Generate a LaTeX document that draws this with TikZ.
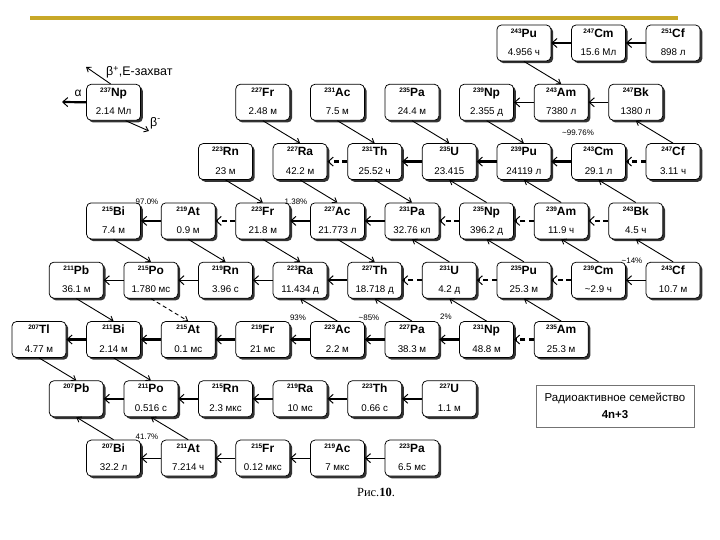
\documentclass[tikz,border=0pt]{standalone}
\usepackage{fontspec}
\setmainfont{Liberation Sans}
\newfontfamily\serifcap{Liberation Serif}
\usetikzlibrary{arrows.meta,shadows}
\definecolor{gold}{RGB}{200,168,40}
\newcommand\nucTxt[3]{\raisebox{4bp}{\fontsize{6.5}{7}\selectfont\bfseries #1}{\fontsize{12}{13}\selectfont\bfseries\vphantom{Tl}#2}\\{\fontsize{9.8}{11}\selectfont\vphantom{д0}#3}}
\newcommand\Nuc[6]{\node[nuc] (#1) at ({39+37.3*#2},{43+59.3*#3}) {\nucTxt{#4}{#5}{#6}};}
\tikzset{
  nuc/.style={draw, line width=0.75bp, rounded corners=4.5bp, fill=white,
    minimum width=54bp, minimum height=36bp, inner sep=0pt, align=center,
    font=\fontsize{9}{18.5}\selectfont,
    drop shadow={shadow xshift=2.2bp, shadow yshift=-2.2bp, fill=black!80, opacity=1}},
  athick/.style={line width=2.2bp, -{Straight Barb[length=5bp,width=9bp,line width=1bp]}},
  amed/.style={line width=1.5bp, -{Straight Barb[length=5bp,width=9bp,line width=1bp]}},
  athin/.style={line width=1.1bp, -{Straight Barb[length=5bp,width=9bp,line width=1bp]}},
  adash/.style={athick, dash pattern=on 5bp off 3.5bp},
  adiag/.style={line width=0.9bp, -{Straight Barb[length=4bp,width=6bp,line width=0.9bp]}},
  adiagdash/.style={adiag, dash pattern=on 4bp off 3bp},
  pct/.style={font=\fontsize{8}{9}\selectfont, inner sep=0pt},
}
\begin{document}
\begin{tikzpicture}[x=1bp,y=-1bp]
\fill[white] (0,0) rectangle (720,540);
\useasboundingbox (0,0) rectangle (720,540);
\draw[gold, line width=4bp] (30,18) -- (678,18);
% row 0
\Nuc{Pu243}{13}{0}{243}{Pu}{4.956 ч}
\Nuc{Cm247}{15}{0}{247}{Cm}{15.6 Мл}
\Nuc{Cf251}{17}{0}{251}{Cf}{898 л}
% row 1
\Nuc{Np237}{2}{1}{237}{Np}{2.14 Мл}
\Nuc{Fr227}{6}{1}{227}{Fr}{2.48 м}
\Nuc{Ac231}{8}{1}{231}{Ac}{7.5 м}
\Nuc{Pa235}{10}{1}{235}{Pa}{24.4 м}
\Nuc{Np239}{12}{1}{239}{Np}{2.355 д}
\Nuc{Am243}{14}{1}{243}{Am}{7380 л}
\Nuc{Bk247}{16}{1}{247}{Bk}{1380 л}
% row 2
\Nuc{Rn223}{5}{2}{223}{Rn}{23 м}
\Nuc{Ra227}{7}{2}{227}{Ra}{42.2 м}
\Nuc{Th231}{9}{2}{231}{Th}{25.52 ч}
\Nuc{U235}{11}{2}{235}{U}{23.415}
\Nuc{Pu239}{13}{2}{239}{Pu}{24119 л}
\Nuc{Cm243}{15}{2}{243}{Cm}{29.1 л}
\Nuc{Cf247}{17}{2}{247}{Cf}{3.11 ч}
% row 3
\Nuc{Bi215}{2}{3}{215}{Bi}{7.4 м}
\Nuc{At219}{4}{3}{219}{At}{0.9 м}
\Nuc{Fr223}{6}{3}{223}{Fr}{21.8 м}
\Nuc{Ac227}{8}{3}{227}{Ac}{21.773 л}
\Nuc{Pa231}{10}{3}{231}{Pa}{32.76 кл}
\Nuc{Np235}{12}{3}{235}{Np}{396.2 д}
\Nuc{Am239}{14}{3}{239}{Am}{11.9 ч}
\Nuc{Bk243}{16}{3}{243}{Bk}{4.5 ч}
% row 4
\Nuc{Pb211}{1}{4}{211}{Pb}{36.1 м}
\Nuc{Po215}{3}{4}{215}{Po}{1.780 мс}
\Nuc{Rn219}{5}{4}{219}{Rn}{3.96 с}
\Nuc{Ra223}{7}{4}{223}{Ra}{11.434 д}
\Nuc{Th227}{9}{4}{227}{Th}{18.718 д}
\Nuc{U231}{11}{4}{231}{U}{4.2 д}
\Nuc{Pu235}{13}{4}{235}{Pu}{25.3 м}
\Nuc{Cm239}{15}{4}{239}{Cm}{\textasciitilde 2.9 ч}
\Nuc{Cf243}{17}{4}{243}{Cf}{10.7 м}
% row 5
\Nuc{Tl207}{0}{5}{207}{Tl}{4.77 м}
\Nuc{Bi211}{2}{5}{211}{Bi}{2.14 м}
\Nuc{At215}{4}{5}{215}{At}{0.1 мс}
\Nuc{Fr219}{6}{5}{219}{Fr}{21 мс}
\Nuc{Ac223}{8}{5}{223}{Ac}{2.2 м}
\Nuc{Pa227}{10}{5}{227}{Pa}{38.3 м}
\Nuc{Np231}{12}{5}{231}{Np}{48.8 м}
\Nuc{Am235}{14}{5}{235}{Am}{25.3 м}
% row 6
\Nuc{Pb207}{1}{6}{207}{Pb}{}
\Nuc{Po211}{3}{6}{211}{Po}{0.516 с}
\Nuc{Rn215}{5}{6}{215}{Rn}{2.3 мкс}
\Nuc{Ra219}{7}{6}{219}{Ra}{10 мс}
\Nuc{Th223}{9}{6}{223}{Th}{0.66 с}
\Nuc{U227}{11}{6}{227}{U}{1.1 м}
% row 7
\Nuc{Bi207}{2}{7}{207}{Bi}{32.2 л}
\Nuc{At211}{4}{7}{211}{At}{7.214 ч}
\Nuc{Fr215}{6}{7}{215}{Fr}{0.12 мкс}
\Nuc{Ac219}{8}{7}{219}{Ac}{7 мкс}
\Nuc{Pa223}{10}{7}{223}{Pa}{6.5 мс}
% horizontal alpha arrows
\draw[athin] (Cf251.west) -- (Cm247.east);
\draw[athin] (Cm247.west) -- (Pu243.east);
\draw[amed] (Bk247.west) -- (Am243.east);
\draw[amed] (Am243.west) -- (Np239.east);
\draw[adash] (Th231.west) -- (Ra227.east);
\draw[athick] (U235.west) -- (Th231.east);
\draw[athick] (Pu239.west) -- (U235.east);
\draw[athick] (Cm243.west) -- (Pu239.east);
\draw[adash] (Cf247.west) -- (Cm243.east);
\draw[athick] (At219.west) -- (Bi215.east);
\draw[adash] (Fr223.west) -- (At219.east);
\draw[athick] (Ac227.west) -- (Fr223.east);
\draw[athick] (Pa231.west) -- (Ac227.east);
\draw[adash] (Np235.west) -- (Pa231.east);
\draw[adash] (Am239.west) -- (Np235.east);
\draw[adash] (Bk243.west) -- (Am239.east);
\draw[athin] (Po215.west) -- (Pb211.east);
\draw[athin] (Rn219.west) -- (Po215.east);
\draw[athin] (Ra223.west) -- (Rn219.east);
\draw[athick] (Th227.west) -- (Ra223.east);
\draw[adash] (U231.west) -- (Th227.east);
\draw[adash] (Pu235.west) -- (U231.east);
\draw[adash] (Cm239.west) -- (Pu235.east);
\draw[athin] (Cf243.west) -- (Cm239.east);
\draw[athick] (Bi211.west) -- (Tl207.east);
\draw[athick] (At215.west) -- (Bi211.east);
\draw[athick] (Fr219.west) -- (At215.east);
\draw[athick] (Ac223.west) -- (Fr219.east);
\draw[athick] (Pa227.west) -- (Ac223.east);
\draw[athick] (Np231.west) -- (Pa227.east);
\draw[adash] (Am235.west) -- (Np231.east);
\draw[athick] (Po211.west) -- (Pb207.east);
\draw[athick] (Rn215.west) -- (Po211.east);
\draw[athick] (Ra219.west) -- (Rn215.east);
\draw[athick] (Th223.west) -- (Ra219.east);
\draw[athick] (U227.west) -- (Th223.east);
\draw[athin] (At211.west) -- (Bi207.east);
\draw[athin] (Fr215.west) -- (At211.east);
\draw[athin] (Ac219.west) -- (Fr215.east);
\draw[athin] (Pa223.west) -- (Ac219.east);
% beta- arrows
\foreach \a/\b in {Pu243/Am243, Fr227/Ra227, Ac231/Th231, Pa235/U235, Np239/Pu239,
  Rn223/Fr223, Ra227/Ac227, Th231/Pa231, Bi215/Po215, At219/Rn219, Fr223/Ra223,
  Ac227/Th227, Pb211/Bi211, Tl207/Pb207, Bi211/Po211}
  \draw[adiag] (\a.south) -- (\b.north);
\draw[adiagdash] (Po215.south) -- (At215.north);
% beta+ / EC arrows
\foreach \a/\b in {Cf247/Bk247, Np235/U235, Am239/Pu239, Bk243/Cm243, U231/Pa231,
  Pu235/Np235, Cm239/Am239, Cf243/Bk243, Ac223/Ra223, Pa227/Th227, Np231/U231,
  Am235/Pu235, Bi207/Pb207, At211/Po211}
  \draw[adiag] (\a.north) -- (\b.south);
% legend arrows
\coordinate (la) at (62,102);
\coordinate (lbp) at (86,67);
\coordinate (lbm) at (149,131);
\draw[athick] (Np237.west) -- (la);
\draw[adiag] ([xshift=-3bp]Np237.north) -- (lbp);
\draw[adiag] ([xshift=12bp]Np237.south) -- (lbm);
\node[font=\fontsize{12}{14}\selectfont, inner sep=0pt] (lalpha) at (78,93) {α};
\node[font=\fontsize{12.5}{14}\selectfont, inner sep=0pt, anchor=west] (lbplus) at (106,72) {β\textsuperscript{+},E-захват};
\node[font=\fontsize{12.5}{14}\selectfont, inner sep=0pt, anchor=west] (lbminus) at (150,123) {β\textsuperscript{-}};
% percentages
\node[pct] (p1) at (147,202) {97.0\%};
\node[pct] (p2) at (296,202) {1.38\%};
\node[pct] (p3) at (578,133) {\textasciitilde 99.76\%};
\node[pct] (p4) at (632,261) {\textasciitilde 14\%};
\node[pct] (p5) at (298,318) {93\%};
\node[pct] (p6) at (369,318) {\textasciitilde 85\%};
\node[pct] (p7) at (446,317) {2\%};
\node[pct] (p8) at (147,437) {41.7\%};
% family box
\node[draw=black!55, line width=0.8bp, minimum width=158bp, minimum height=42bp,
  align=center, font=\fontsize{11.5}{17}\selectfont] (fam) at (615,406)
  {Радиоактивное семейство\\\textbf{4n+3}};
\node[font=\serifcap\fontsize{12.5}{14}\selectfont, inner sep=0pt] (cap) at (376,492) {Рис.\textbf{10}.};
\end{tikzpicture}
\end{document}
